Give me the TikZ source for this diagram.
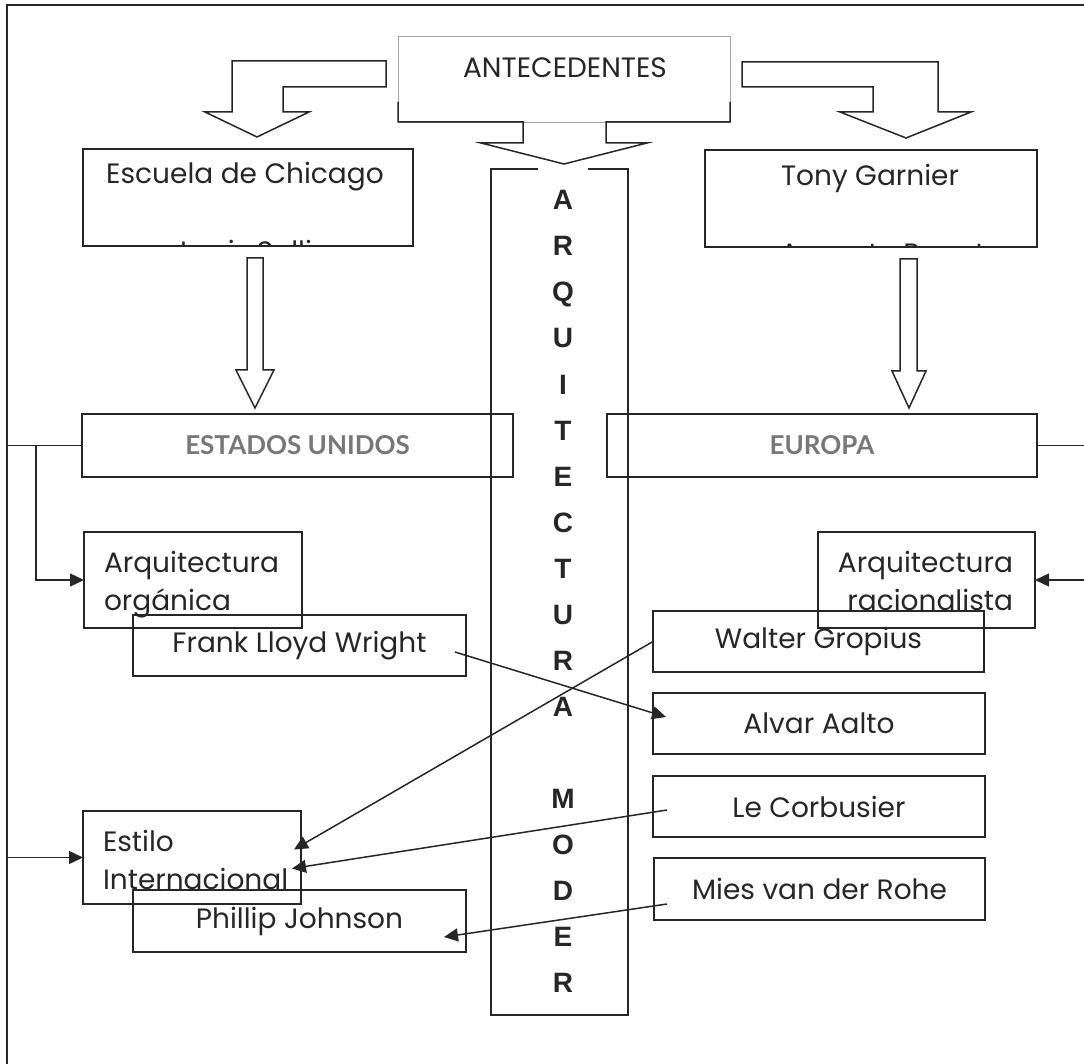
\documentclass[tikz,border=0pt]{standalone}
\usepackage{fontspec}
\setmainfont{Poppins}
\newfontfamily\gillfont{Lato}
\newfontfamily\arialfont{Liberation Sans}
\usetikzlibrary{arrows.meta,calc}
\definecolor{ink}{HTML}{262626}
\definecolor{countrygray}{HTML}{777777}
\begin{document}
\begin{tikzpicture}[x=1pt,y=-1pt,
  every node/.style={inner sep=0pt, outer sep=0pt},
  box/.style={draw=ink, line width=1.7pt, rectangle},
  txt/.style={font=\fontsize{28}{38}\selectfont, text=ink},
  country/.style={font=\gillfont\bfseries\fontsize{26}{30}\selectfont, text=countrygray},
  vert/.style={font=\arialfont\bfseries\fontsize{28}{30}\selectfont, text=ink},
  blockarrow/.style={draw=ink, line width=1.5pt, fill=white, line join=miter},
  conn/.style={draw=ink, line width=1.5pt},
  arr/.style={conn, -{Triangle[length=14pt,width=13pt]}},
  frame/.style={draw=ink, line width=2pt}]
\useasboundingbox (0,0) rectangle (1084,1064);

% outer frame (left and top only)
\draw[frame] (7,1070) -- (7,5) -- (1090,5);

% ANTECEDENTES callout
\node[draw=black!35, line width=0.7pt, minimum width=332pt, minimum height=86pt] (ante) at (564,79) {};
\node[txt] (antetext) at (565,68) {ANTECEDENTES};
\draw[blockarrow, fill=none] (398,102) -- (398,122) -- (523,122) -- (523,143) -- (481,143) -- (564,164) -- (647,143) -- (606,143) -- (606,122) -- (730,122) -- (730,102);

% bent block arrows
\draw[blockarrow] (232,61) -- (386,61) -- (386,87) -- (283,87) -- (283,112) -- (309,112) -- (257,137) -- (205,112) -- (232,112) -- cycle;
\draw[blockarrow] (742,62) -- (938,62) -- (938,112) -- (971,112) -- (906,138) -- (840,112) -- (873,112) -- (873,87) -- (742,87) -- cycle;

% Escuela de Chicago
\node[box, minimum width=330pt, minimum height=97pt] (escuela) at (248,197.5) {};
\node[txt] (escuelatext) at (245,177) {Escuela de Chicago};
\begin{scope}
  \clip ($(escuela.south west)+(1,-1)$) rectangle ($(escuela.north east)+(-1,1)$);
  \node[txt, anchor=base west] (sullivan) at (180,262) {Louis Sullivan};
\end{scope}

% Tony Garnier
\node[box, minimum width=332pt, minimum height=97pt] (tony) at (871,198.5) {};
\node[txt] (tonytext) at (870,178) {Tony Garnier};
\begin{scope}
  \clip ($(tony.south west)+(1,-1)$) rectangle ($(tony.north east)+(-1,1)$);
  \node[txt, anchor=base west] (perret) at (780,264) {Auguste Perret};
\end{scope}

% down block arrows
\draw[blockarrow] (247,258) -- (263,258) -- (263,370) -- (274,370) -- (255,408) -- (236,370) -- (247,370) -- cycle;
\draw[blockarrow] (900,259) -- (917,259) -- (917,371) -- (926,371) -- (909,408) -- (892,371) -- (900,371) -- cycle;

% central vertical box
\node[box, minimum width=137pt, minimum height=846pt] (arq) at (559.5,592) {};
\fill[white] (538,166) rectangle (588,172);
\foreach \l [count=\i] in {A,R,Q,U,I,T,E,C,T,U,R,A}
  \node[vert, anchor=base] (va\i) at (563,210+46*\i-46) {\l};
\foreach \l [count=\i] in {M,O,D,E,R}
  \node[vert, anchor=base] (vb\i) at (563,808+46*\i-46) {\l};

% countries
\node[box, country, minimum width=431pt, minimum height=63pt] (eeuu) at (297.5,445.5) {ESTADOS UNIDOS};
\node[box, country, minimum width=430pt, minimum height=63pt] (europa) at (822,445.5) {EUROPA};

% styles
\node[box, minimum width=218pt, minimum height=96pt] (organica) at (193,580) {};
\node[txt, align=left, anchor=north west] (organicatext) at (104,551) {Arquitectura\\orgánica};
\node[box, minimum width=217pt, minimum height=96pt] (racional) at (926.5,580) {};
\node[txt, align=right, anchor=north east] (racionaltext) at (1013,551) {Arquitectura\\racionalista};
\node[box, minimum width=218pt, minimum height=93pt] (estilo) at (192,857.5) {};
\node[txt, align=left, anchor=north west] (estilotext) at (103,830) {Estilo\\Internacional};

% people
\node[box, txt, minimum width=333pt, minimum height=61pt] (flw) at (299.5,645.5) {Frank Lloyd Wright};
\node[box, txt, minimum width=333pt, minimum height=62pt] (johnson) at (299.5,921) {Phillip Johnson};
\node[box, txt, minimum width=331pt, minimum height=61pt] (gropius) at (818.5,641.5) {Walter Gropius};
\node[box, txt, minimum width=332pt, minimum height=61pt] (aalto) at (819,723.5) {Alvar Aalto};
\node[box, txt, minimum width=332pt, minimum height=61pt] (corbu) at (819,806.5) {Le Corbusier};
\node[box, txt, minimum width=331pt, minimum height=62pt] (mies) at (819.5,889) {Mies van der Rohe};

% connectors
\coordinate (jl) at ($(eeuu.west)+(-46,0)$);
\draw[arr] (eeuu.west) -- ++(-75,0) |- (estilo.west);
\draw[arr] (jl) |- (organica.west);
\draw[arr] (europa.east) -- ++(70,0) |- (racional.east);

\coordinate (flwS) at ($(flw.east)+(-11,6.5)$);
\coordinate (aaltoT) at ($(aalto.west)+(13,-6.5)$);
\draw[arr] (flwS) -- (aaltoT);

\coordinate (gropT) at ($(estilo.east)+(-7,-8)$);
\draw[arr] (gropius.west) -- (gropT);
\coordinate (corbuS) at ($(corbu.west)+(14,3.5)$);
\coordinate (corbuT) at ($(estilo.east)+(-9,11)$);
\draw[arr] (corbuS) -- (corbuT);
\coordinate (miesS) at ($(mies.west)+(13,15)$);
\coordinate (miesT) at ($(johnson.east)+(-22,16)$);
\draw[arr] (miesS) -- (miesT);
\end{tikzpicture}
\end{document}
